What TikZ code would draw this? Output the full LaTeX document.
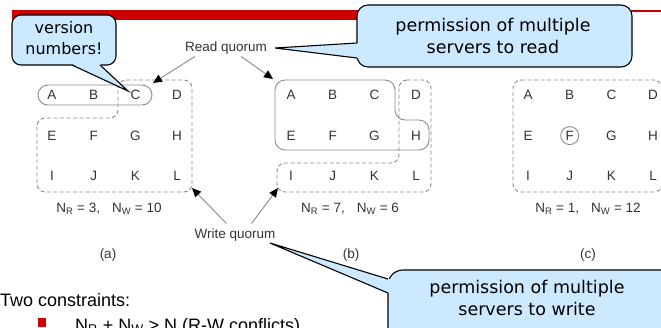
\documentclass[tikz,border=0pt]{standalone}
\usepackage{fontspec}
\setmainfont{Liberation Sans}
\newfontfamily\calloutfont{DejaVu Sans}
\usetikzlibrary{arrows.meta}
\definecolor{calloutblue}{HTML}{CCE9FF}
\definecolor{barred}{HTML}{CC0000}
\definecolor{quorumgray}{HTML}{8A8A8A}
\definecolor{lettergray}{HTML}{333333}

\begin{document}
\begin{tikzpicture}[x=1pt,y=-1pt,
  lbl/.style={font=\fontsize{13.5}{15}\selectfont, text=lettergray, inner sep=0pt},
  captext/.style={font=\fontsize{13.5}{15}\selectfont, text=lettergray, inner sep=0pt},
  rq/.style={draw=quorumgray, line width=0.9pt},
  wq/.style={rq, dash pattern=on 4pt off 2.5pt, rounded corners=8pt},
  ptr/.style={draw=quorumgray, line width=0.9pt, -{Triangle[length=9pt,width=8pt,color=black]}},
  callbox/.style={fill=calloutblue, draw=black, line width=1.1pt},
  calltext/.style={font=\calloutfont\fontsize{17.5}{22}\selectfont, align=center, inner sep=0pt},
  bigtext/.style={font=\fontsize{18}{21}\selectfont, inner sep=0pt, anchor=base west}]
\useasboundingbox (0,0) rectangle (661,327);

% slide header bar
\fill[barred] (12,10) rectangle (610,20);
\draw[barred, line width=1.1pt] (600,11) -- (661,11);

% server grids
\foreach \g/\x in {a/52,b/291,c/528}{
  \foreach \L/\i/\j in {A/0/0,B/1/0,C/2/0,D/3/0,E/0/1,F/1/1,G/2/1,H/3/1,I/0/2,J/1/2,K/2/2,L/3/2}
    \node[lbl] (\g\L) at (\x+41.7*\i, 95+40.6*\j) {\L};
}

% (a) quorums
\draw[rq, rounded corners=10pt] (38,85) rectangle (152,105);
\draw[wq] (118,80) -- (192,80) -- (192,192) -- (37,192) -- (37,118) -- (118,118) -- cycle;
% (b) quorums
\draw[rq, rounded corners=10pt] (275,80) -- (395,80) -- (395,120) -- (429,120) -- (429,150) -- (275,150) -- cycle;
\draw[wq] (399,80) -- (431,80) -- (431,192) -- (277,192) -- (277,163) -- (399,163) -- cycle;
% (c) quorums
\draw[rq] (cF) circle (9pt);
\draw[wq] (513,80) -- (662,80) -- (662,192) -- (513,192) -- cycle;

% quorum sizes and captions
\node[captext] (na) at (109,209) {N\textsubscript{R} = 3,\hspace{12pt}N\textsubscript{W} = 10};
\node[captext] (nb) at (350,209) {N\textsubscript{R} = 7,\hspace{12pt}N\textsubscript{W} = 6};
\node[captext] (nc) at (588,209) {N\textsubscript{R} = 1,\hspace{12pt}N\textsubscript{W} = 12};
\node[captext] (capa) at (108,255) {(a)};
\node[captext] (capb) at (351,255) {(b)};
\node[captext] (capc) at (588,255) {(c)};

% quorum labels and pointers
\node[captext] (readq) at (226,48) {Read quorum};
\node[captext] (writeq) at (235,235) {Write quorum};
\coordinate (ra) at (153,83);
\coordinate (rb) at (273,79);
\coordinate (wa) at (192,188);
\coordinate (wb) at (278,188);
\draw[ptr] (readq.south west) ++(10,2) -- (ra);
\draw[ptr] (readq.south east) ++(-26,2) -- (rb);
\draw[ptr] (writeq.north west) ++(32,-5) -- (wa);
\draw[ptr] (writeq.north east) ++(-24,-5) -- (wb);

% text below
\node[bigtext] (two) at (0,306) {Two constraints:};
\fill[barred] (38,318) rectangle (46,327);
\node[bigtext] (rule) at (75,331) {N\textsubscript{R} + N\textsubscript{W} > N (R-W conflicts)};

% callout: version numbers
\coordinate (tipv) at (128,91);
\draw[callbox, rounded corners=9pt] (12,15) rectangle (116,65);
\fill[calloutblue] (72,64) -- (tipv) -- (100,64) -- (100,61) -- (72,61) -- cycle;
\draw[line width=1.1pt] (72,65) -- (tipv) -- (100,65);
\node[calltext, font=\calloutfont\fontsize{16}{21.5}\selectfont] (vn) at (64,38) {version\\numbers!};

% callout: read permission
\coordinate (tipr) at (275,48);
\draw[callbox, rounded corners=11pt] (357,5) rectangle (632,67);
\fill[calloutblue] (358,43) -- (tipr) -- (358,58) -- (361,58) -- (361,43) -- cycle;
\draw[line width=1.1pt] (357,43) -- (tipr) -- (357,58);
\node[calltext] (pr) at (493,36) {permission of multiple\\servers to read};

% callout: write permission
\coordinate (tipw) at (270,243);
\draw[callbox, rounded corners=15pt] (388,270) rectangle (680,345);
\fill[calloutblue] (389,279) -- (tipw) -- (389,293) -- (393,293) -- (393,279) -- cycle;
\draw[line width=1.1pt] (388,279) -- (tipw) -- (388,293);
\node[calltext] (pw) at (527,298) {permission of multiple\\servers to write};
\end{tikzpicture}
\end{document}
